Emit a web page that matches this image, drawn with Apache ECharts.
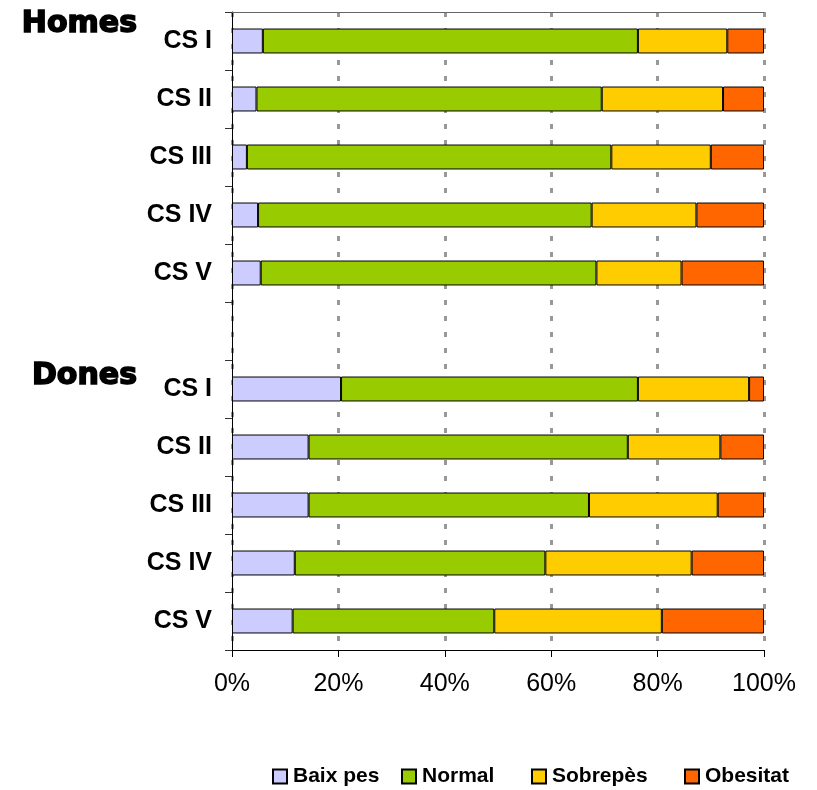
<!DOCTYPE html>
<html>
<head>
<meta charset="utf-8">
<script src="https://cdn.jsdelivr.net/npm/echarts@6/dist/echarts.min.js"></script>
<style>
html,body{margin:0;padding:0;background:#fff;}
#chart{width:817px;height:790px;}
</style>
</head>
<body>
<div id="chart"></div>
<script>
const categories = ['CS I','CS II','CS III','CS IV','CS V','','CS I','CS II','CS III','CS IV','CS V'];
const groupLabels = ['Homes','Dones'];
const seriesNames = ['Baix pes','Normal','Sobrepès','Obesitat'];
const baixPes  = [5.8, 4.6, 2.8, 4.9, 5.4, null, 20.5, 14.4, 14.4, 11.8, 11.4];
const normal   = [70.5, 64.9, 68.5, 62.7, 63.1, null, 55.8, 60.0, 52.7, 47.1, 37.9];
const sobrepes = [16.8, 22.8, 18.7, 19.7, 16.0, null, 20.9, 17.4, 24.2, 27.5, 31.5];
const obesitat = [6.9, 7.7, 10.0, 12.7, 15.5, null, 2.8, 8.2, 8.7, 13.6, 19.2];
const xTicks = [0, 20, 40, 60, 80, 100];

const colors = ['#CCCCFF', '#99CC00', '#FFCC00', '#FF6600'];
const values = [baixPes, normal, sobrepes, obesitat];
const legendLefts = [272, 401, 531, 684];

const chart = echarts.init(document.getElementById('chart'), null, {renderer: 'canvas'});
const option = {
  animation: false,
  backgroundColor: '#ffffff',
  grid: {left: 232, right: 53, top: 12, bottom: 140, containLabel: false},
  xAxis: [{
    type: 'value',
    position: 'bottom',
    min: xTicks[0], max: xTicks[xTicks.length - 1], interval: 20,
    axisLine: {show: true, lineStyle: {color: '#000', width: 1}},
    axisTick: {show: true, length: 7, lineStyle: {color: '#000'}},
    axisLabel: {
      formatter: '{value}%', fontSize: 25, color: '#000', margin: 22,
      fontFamily: 'Liberation Sans, Arial, sans-serif'
    },
    splitLine: {show: true, lineStyle: {color: '#999', width: 3, type: [5, 11]}}
  }, {
    type: 'value',
    position: 'top',
    min: 0, max: 100,
    axisLine: {show: true, lineStyle: {color: '#666', width: 1}},
    axisTick: {show: false},
    axisLabel: {show: false},
    splitLine: {show: false}
  }],
  yAxis: {
    type: 'category',
    data: categories,
    inverse: true,
    axisLine: {show: true, lineStyle: {color: '#000', width: 1}},
    axisTick: {show: true, length: 7, lineStyle: {color: '#333'}},
    axisLabel: {
      fontSize: 25, fontWeight: 'bold', color: '#000', margin: 20,
      fontFamily: 'Liberation Sans, Arial, sans-serif'
    }
  },
  legend: seriesNames.map((n, i) => ({
    data: [n],
    left: legendLefts[i],
    top: 766,
    padding: 0,
    itemWidth: 14, itemHeight: 14,
    itemGap: 0,
    icon: 'rect',
    selectedMode: false,
    textStyle: {fontSize: 21, fontWeight: 'bold', color: '#000', fontFamily: 'Liberation Sans, Arial, sans-serif', padding: [0, 0, 0, 1]}
  })),
  graphic: [
    {type: 'text', x: 137, y: 24, style: {text: groupLabels[0], fill: '#000', stroke: '#000', lineWidth: 1.6, font: 'bold 30px "DejaVu Sans"', textAlign: 'right', textVerticalAlign: 'middle'}},
    {type: 'text', x: 137, y: 376, style: {text: groupLabels[1], fill: '#000', stroke: '#000', lineWidth: 1.6, font: 'bold 30px "DejaVu Sans"', textAlign: 'right', textVerticalAlign: 'middle'}}
  ],
  series: seriesNames.map((n, i) => ({
    name: n,
    type: 'bar',
    stack: 'total',
    barWidth: '43%',
    xAxisIndex: 0,
    data: values[i],
    itemStyle: {color: colors[i], borderColor: '#000', borderWidth: 1}
  }))
};
chart.setOption(option);
</script>
</body>
</html>
